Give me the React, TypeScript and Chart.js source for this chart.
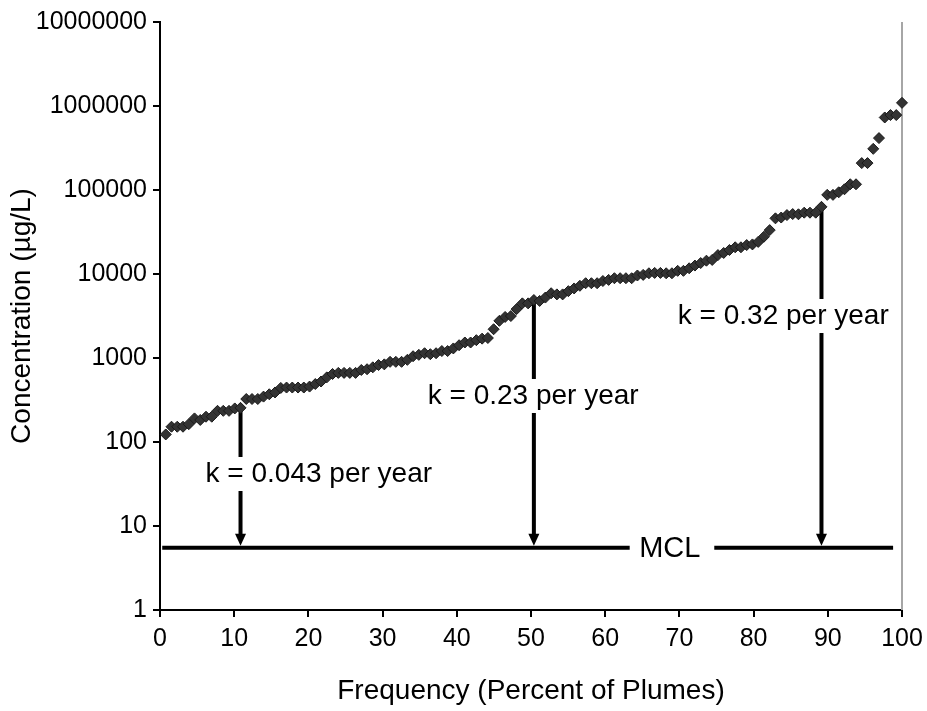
import { useEffect, useRef } from "react";
import { Chart, registerables } from "chart.js";

Chart.register(...registerables);

const FONT = "Arial, 'Liberation Sans', sans-serif";

// Concentrations (µg/L) of the ranked plumes, lowest to highest
const concentrations = [
  123, 152, 152, 152, 163, 191, 183, 200, 200, 235, 235, 235, 251, 255, 325, 325, 325, 347, 370, 389, 440,
  445, 445, 445, 445, 457, 490, 525, 588, 645, 665, 665, 665, 665, 720, 735, 775, 825, 840, 900, 900, 900, 950,
  1050, 1090, 1140, 1110, 1140, 1210, 1210, 1300, 1420, 1530, 1530, 1630, 1700, 1730, 2200, 2770, 3080, 3160, 3820, 4470, 4470, 4900,
  4780, 5240, 5900, 5720, 5720, 6250, 6730, 7240, 7770, 7770, 7770, 8250, 8510, 8910, 8910, 8910, 8910, 9600, 9760, 10200, 10300, 10300,
  10200, 10200, 10900, 10900, 11700, 12600, 13500, 14400, 14700, 16800, 17800, 19300, 20800, 20800, 22100, 22500, 24100, 27800, 33300, 46000, 47000,
  50300, 51700, 51400, 53700, 53700, 53700, 63000, 87500, 87500, 93900, 102000, 117000, 117000, 209000, 209000, 309000, 415000, 730000, 780000, 780000, 1090000,
];

const yTickValues = [1, 10, 100, 1000, 10000, 100000, 1000000, 10000000];
const xTickValues = [0, 10, 20, 30, 40, 50, 60, 70, 80, 90, 100];

const mclValue = 5.5;
const mclLabel = "MCL";
const mclLabelX = 68.7;
const mclSegments = [
  [0.3, 63.3],
  [74.7, 98.8],
];

// ranks (1-based) of the plumes from which arrows are drawn
const arrowRanks = [14, 65, 115];

const labelTexts = ["k = 0.043 per year", "k = 0.23 per year", "k = 0.32 per year"];
const labelX = [21.4, 50.3, 84.0];
const labelY = [41.6, 353, 3162];

const n = concentrations.length;
const rankToFreq = (r: number) => (r / n) * 100;

const annotationPlugin = {
  id: "annotations",
  beforeDatasetsDraw(chart: any) {
    const { ctx, chartArea } = chart;
    const xs = chart.scales.x;
    const ys = chart.scales.y;
    ctx.save();
    // plot-area right border
    ctx.strokeStyle = "#a6a6a6";
    ctx.lineWidth = 2;
    ctx.beginPath();
    ctx.moveTo(chartArea.right, chartArea.top);
    ctx.lineTo(chartArea.right, chartArea.bottom);
    ctx.stroke();

    const yM = ys.getPixelForValue(mclValue);
    ctx.strokeStyle = "#000";
    ctx.lineWidth = 4;
    ctx.beginPath();
    for (const [a, b] of mclSegments) {
      ctx.moveTo(xs.getPixelForValue(a), yM);
      ctx.lineTo(xs.getPixelForValue(b), yM);
    }
    ctx.stroke();

    // arrows
    for (const r of arrowRanks) {
      const px = xs.getPixelForValue(rankToFreq(r));
      const top = ys.getPixelForValue(concentrations[r - 1]);
      const tip = yM - 2;
      ctx.lineWidth = 4;
      ctx.beginPath();
      ctx.moveTo(px, top);
      ctx.lineTo(px, tip - 8);
      ctx.stroke();
      ctx.fillStyle = "#000";
      ctx.beginPath();
      ctx.moveTo(px - 5.5, tip - 12);
      ctx.lineTo(px + 5.5, tip - 12);
      ctx.lineTo(px, tip);
      ctx.closePath();
      ctx.fill();
    }

    // text labels with white boxes
    ctx.font = `28px ${FONT}`;
    ctx.textAlign = "center";
    ctx.textBaseline = "middle";
    labelTexts.forEach((t, i) => {
      const cx = xs.getPixelForValue(labelX[i]);
      const cy = ys.getPixelForValue(labelY[i]);
      const w = ctx.measureText(t).width;
      ctx.fillStyle = "#fff";
      ctx.fillRect(cx - w / 2 - 4, cy - 17, w + 8, 34);
      ctx.fillStyle = "#000";
      ctx.fillText(t, cx, cy);
    });
    ctx.fillStyle = "#000";
    ctx.font = `29px ${FONT}`;
    ctx.fillText(mclLabel, xs.getPixelForValue(mclLabelX), yM + 1);
    ctx.restore();
  },
};

export default function App() {
  const ref = useRef<HTMLCanvasElement | null>(null);
  useEffect(() => {
    if (!ref.current) return;
    const points = concentrations.map((c, i) => ({ x: rankToFreq(i + 1), y: c }));
    const chart = new Chart(ref.current, {
      type: "scatter",
      data: {
        datasets: [
          {
            data: points,
            pointStyle: "rectRot",
            pointRadius: 5.5,
            pointBackgroundColor: "#333333",
            pointBorderColor: "#1a1a1a",
            pointBorderWidth: 1,
            clip: false as any,
          },
        ],
      },
      options: {
        responsive: false,
        animation: false,
        events: [],
        layout: { padding: { top: 22, right: 25, left: 0, bottom: 0 } },
        plugins: { legend: { display: false }, tooltip: { enabled: false } },
        scales: {
          x: {
            type: "linear",
            min: 0,
            max: 100,
            afterBuildTicks: (s: any) => {
              s.ticks = xTickValues.map((v) => ({ value: v }));
            },
            afterFit: (s: any) => {
              s.height = 101;
              s.paddingRight = 0;
              s.paddingLeft = 0;
            },
            grid: { drawOnChartArea: false, drawTicks: true, tickLength: 7, color: "#000", lineWidth: 2 },
            border: { display: true, color: "#000", width: 2 },
            ticks: { color: "#000", font: { family: FONT, size: 25 }, padding: 7, maxRotation: 0 },
            title: {
              display: true,
              text: "Frequency (Percent of Plumes)",
              color: "#000",
              font: { family: FONT, size: 28 },
              padding: { top: 0, bottom: 3 },
            },
          },
          y: {
            type: "logarithmic",
            min: 1,
            max: 10000000,
            afterBuildTicks: (s: any) => {
              s.ticks = yTickValues.map((v) => ({ value: v }));
            },
            afterFit: (s: any) => {
              s.width = 160;
              s.paddingTop = 0;
              s.paddingBottom = 0;
            },
            grid: { drawOnChartArea: false, drawTicks: true, tickLength: 7, color: "#000", lineWidth: 2 },
            border: { display: true, color: "#000", width: 2 },
            ticks: {
              color: "#000",
              font: { family: FONT, size: 25 },
              padding: 6,
              callback: (v: any) => String(v),
            },
            title: {
              display: true,
              text: "Concentration (µg/L)",
              color: "#000",
              font: { family: FONT, size: 28 },
              padding: { top: 5, bottom: 0 },
            },
          },
        },
      },
      plugins: [annotationPlugin],
    });
    return () => chart.destroy();
  }, []);
  return (
    <div style={{ position: "absolute", left: 0, top: 0, width: 927, height: 711 }}>
      <canvas ref={ref} width={927} height={711} style={{ display: "block" }} />
    </div>
  );
}
